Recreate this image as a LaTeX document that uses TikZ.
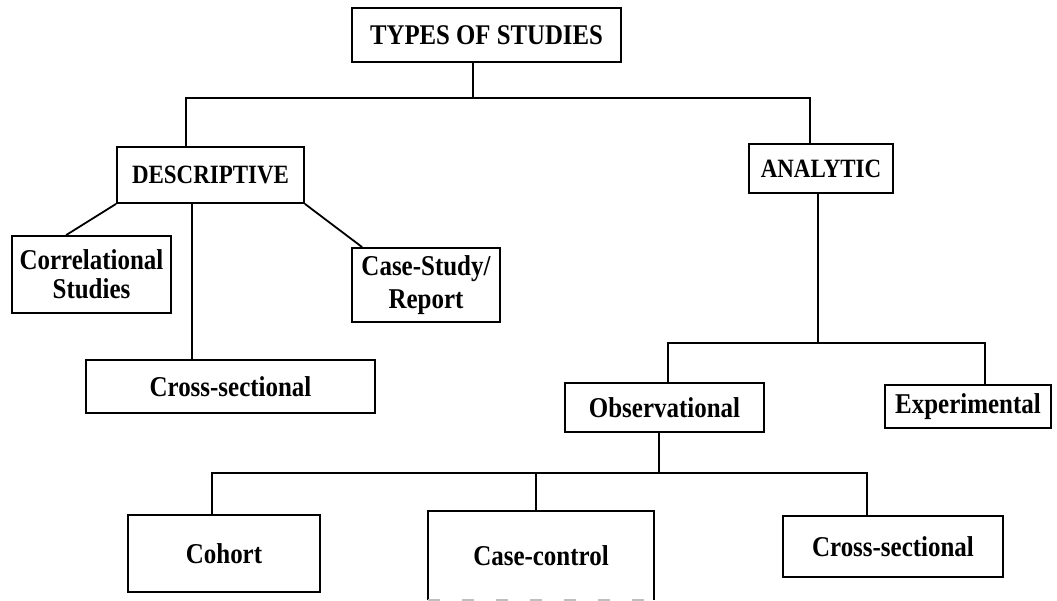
\documentclass[tikz,border=0pt]{standalone}
\usepackage{fontspec}
\setmainfont[FakeStretch=0.87]{Liberation Serif}
\usetikzlibrary{calc}
\tikzset{
  box/.style={draw, line width=1.8pt, inner sep=0pt, align=center,
    font=\bfseries\fontsize{28.7}{31}\selectfont},
  capbox/.style={box, font=\bfseries\fontsize{26.4}{30}\selectfont},
  link/.style={line width=1.8pt},
}
\begin{document}
\begin{tikzpicture}[x=1pt,y=-1pt]
\useasboundingbox (0,0) rectangle (1057,601);
% boxes
\node[box, font=\bfseries\fontsize{28.5}{30}\selectfont, minimum width=269pt, minimum height=54pt] (types) at (486.5,35) {TYPES OF STUDIES};
\node[capbox, minimum width=187pt, minimum height=56pt] (desc) at (210.5,175) {DESCRIPTIVE};
\node[capbox, minimum width=144pt, minimum height=49pt] (anal) at (821,168.5) {ANALYTIC};
\node[box, minimum width=159pt, minimum height=77pt, font=\bfseries\fontsize{28.7}{29}\selectfont] (corr) at (91.5,274.5) {Correlational\\Studies};
\node[box, minimum width=148pt, minimum height=74pt, font=\bfseries\fontsize{28.7}{33}\selectfont] (case) at (426,285) {Case-Study/\\Report};
\node[box, minimum width=289pt, minimum height=53pt] (cs1) at (230.5,386.5) {Cross-sectional};
\node[box, minimum width=199pt, minimum height=49pt] (obs) at (664.5,407.5) {Observational};
\node[box, minimum width=166pt, minimum height=43pt] (exp) at (968,406.5) {Experimental};
\node[box, minimum width=192pt, minimum height=77pt] (coh) at (224,553.5) {Cohort};
\node[box, draw=none, minimum width=224pt, minimum height=87pt] (cc) at (541,555.5) {Case-control};
\node[box, minimum width=220pt, minimum height=61pt] (cs2) at (893,546.5) {Cross-sectional};
% case-control outline (faint bottom edge)
\draw[link] (cc.south west) -- (cc.north west) -- (cc.north east) -- (cc.south east);
\draw[line width=1.8pt, black!25, dash pattern=on 12pt off 22pt] (cc.south west) -- (cc.south east);
% junction points
\coordinate (t1) at (473,98);
\coordinate (l1) at (186,98);
\coordinate (r1) at (810,98);
\coordinate (d1) at (192,0);
\coordinate (a1) at (818,343);
\coordinate (a2) at (668,343);
\coordinate (a3) at (985,343);
\coordinate (b1) at (659,473);
\coordinate (b2) at (212,473);
\coordinate (b3) at (867,473);
\coordinate (b4) at (536,473);
% connectors
\draw[link] (types.south -| t1) -- (t1);
\draw[link] (desc.north -| l1) -- (l1) -- (r1) -- (anal.north -| r1);
\draw[link] (desc.south -| d1) -- (cs1.north -| d1);
\draw[link] (desc.south west) -- ($(corr.north west)+(55,0)$);
\draw[link] (desc.south east) -- ($(case.north west)+(11,0)$);
\draw[link] (anal.south -| a1) -- (a1);
\draw[link] (obs.north -| a2) -- (a2) -- (a3) -- (exp.north -| a3);
\draw[link] (obs.south -| b1) -- (b1);
\draw[link] (coh.north -| b2) -- (b2) -- (b3) -- (cs2.north -| b3);
\draw[link] (b4) -- (cc.north -| b4);
\end{tikzpicture}
\end{document}
